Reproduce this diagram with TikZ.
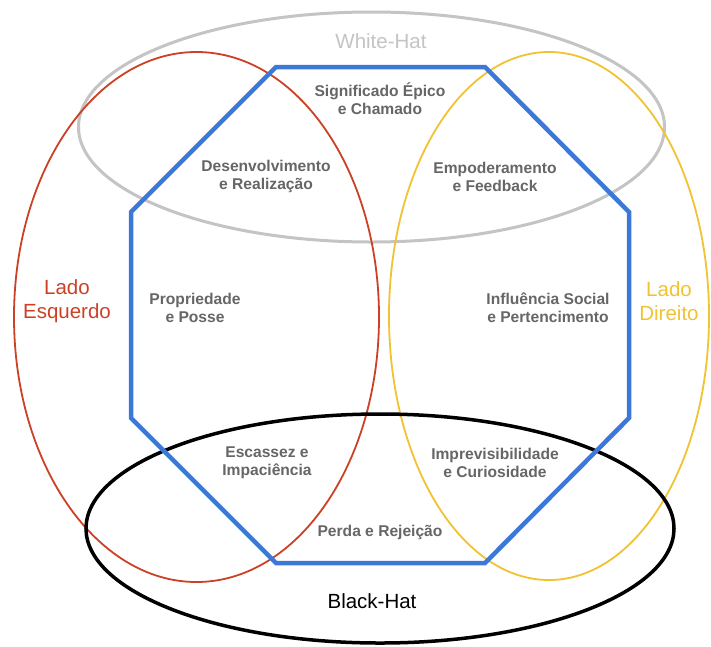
\documentclass[tikz,border=0pt]{standalone}
\usepackage{fontspec}
\setmainfont{Liberation Sans}
\definecolor{octblue}{HTML}{3C78D8}
\definecolor{leftred}{HTML}{CC4125}
\definecolor{rightyellow}{HTML}{F1C232}
\definecolor{whitegrey}{HTML}{C4C4C4}
\definecolor{labelgrey}{HTML}{666666}
\begin{document}
\begin{tikzpicture}[x=1pt,y=-1pt,
  core/.style={font=\fontsize{15.6}{18}\selectfont\bfseries, text=labelgrey, align=center, inner sep=0pt},
  side/.style={font=\fontsize{20.5}{24}\selectfont, align=center, inner sep=0pt}]
\useasboundingbox[fill=white] (0,0) rectangle (711,646);
% ellipses
\draw[whitegrey, line width=3pt] (371.5,127) ellipse [x radius=293pt, y radius=115pt];
\draw[leftred, line width=1.8pt] (196.5,317) ellipse [x radius=182.5pt, y radius=265pt];
\draw[rightyellow, line width=1.8pt] (549,316) ellipse [x radius=160pt, y radius=264pt];
\draw[black, line width=3.5pt] (380,528.5) ellipse [x radius=294pt, y radius=114.5pt];
% octagon
\coordinate (o1) at (276,67);
\coordinate (o2) at (485,67);
\coordinate (o3) at (629,212);
\coordinate (o4) at (629,418);
\coordinate (o5) at (485,563);
\coordinate (o6) at (276,563);
\coordinate (o7) at (131,418);
\coordinate (o8) at (131,212);
\draw[octblue, line width=4.5pt, line join=miter] (o1) -- (o2) -- (o3) -- (o4) -- (o5) -- (o6) -- (o7) -- (o8) -- cycle;
% labels
\node[side, text=whitegrey] (wh) at (381,41) {White-Hat};
\node[side, text=black] (bh) at (372,601) {Black-Hat};
\node[side, text=leftred] (le) at (67,301) {Lado\\Esquerdo};
\node[side, text=rightyellow] (ld) at (669,301) {Lado\\Direito};
\node[core] (c1) at (380,99) {Significado Épico\\e Chamado};
\node[core] (c2) at (266,176) {Desenvolvimento\\e Realização};
\node[core] (c3) at (495,177) {Empoderamento\\e Feedback};
\node[core] (c4) at (195,308) {Propriedade\\e Posse};
\node[core] (c5) at (548,308) {Influência Social\\e Pertencimento};
\node[core] (c6) at (267,463) {Escassez e\\Impaciência};
\node[core] (c7) at (495,463) {Imprevisibilidade\\e Curiosidade};
\node[core] (c8) at (380,532) {Perda e Rejeição};
\end{tikzpicture}
\end{document}
